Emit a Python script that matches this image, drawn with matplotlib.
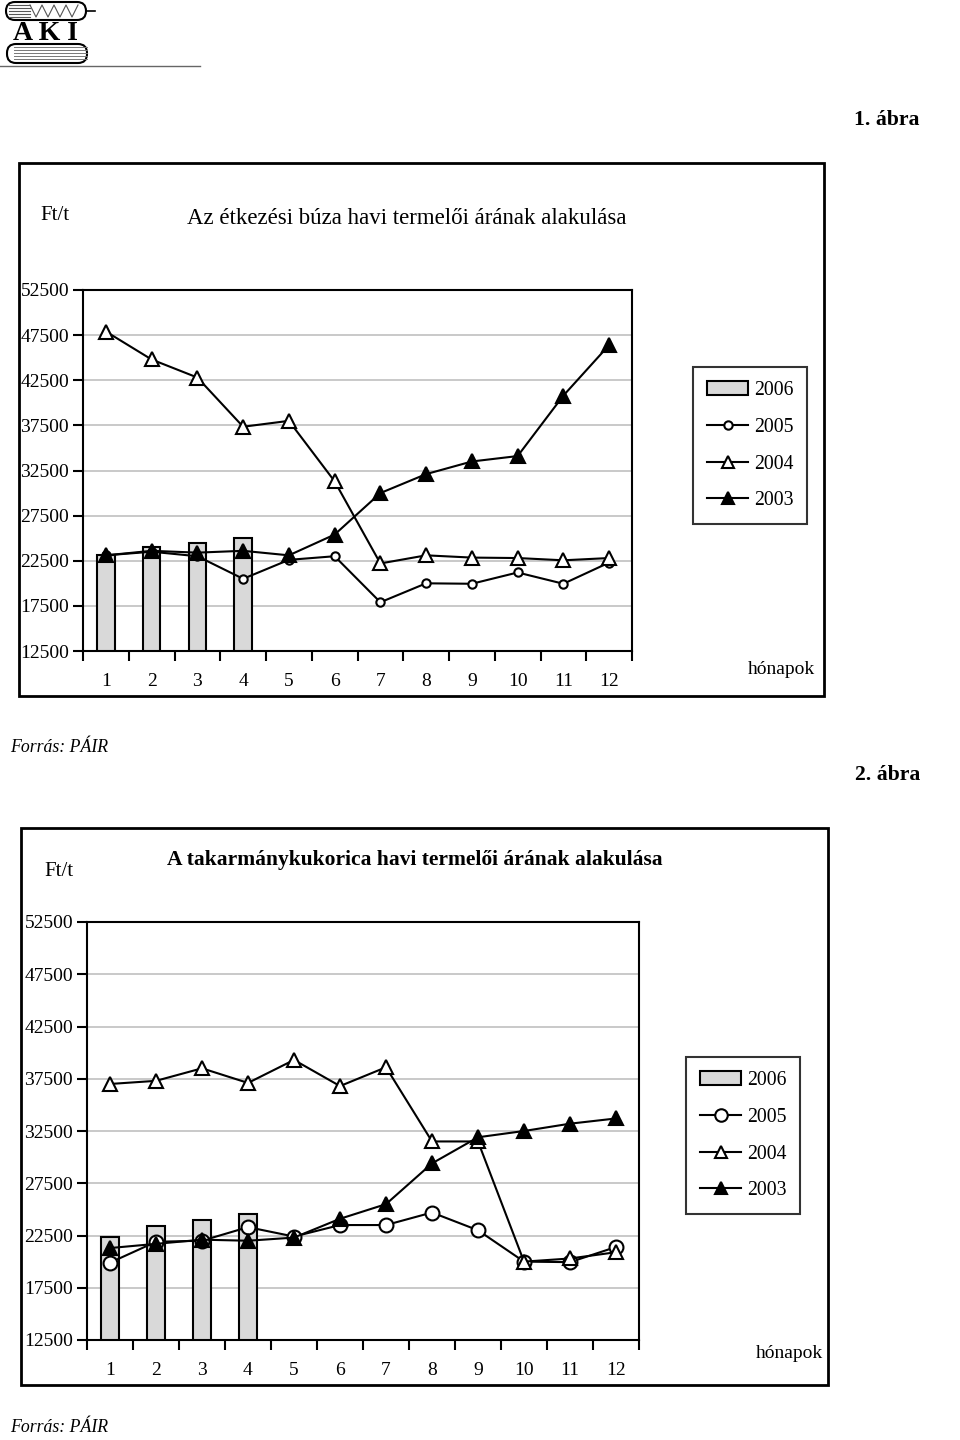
import numpy as np
import matplotlib
matplotlib.use("Agg")
import matplotlib.pyplot as plt
import matplotlib.patches as patches
from matplotlib.lines import Line2D

plt.rcParams['font.family'] = ['Liberation Serif', 'DejaVu Serif']

# monthly prices, Ft/t
months = np.arange(1, 13)

wheat_2006 = [23100, 24000, 24500, 25000]
wheat_2005 = [23100, 23500, 23000, 20500, 22600, 23000, 17900, 20000, 19950, 21200, 19950, 22300]
wheat_2004 = [47900, 44800, 42800, 37350, 38000, 31300, 22200, 23100, 22850, 22800, 22550, 22800]
wheat_2003 = [23100, 23600, 23400, 23600, 23100, 25400, 30000, 32100, 33500, 34100, 40800, 46400]

corn_2006 = [22400, 23400, 24000, 24600]
corn_2005 = [19900, 21900, 22000, 23300, 22400, 23500, 23500, 24700, 23000, 20000, 19950, 21400]
corn_2004 = [37000, 37300, 38500, 37100, 39300, 36800, 38600, 31500, 31500, 20000, 20300, 20900]
corn_2003 = [21300, 21700, 22100, 22000, 22300, 24100, 25500, 29400, 31900, 32500, 33200, 33700]

years = ["2006", "2005", "2004", "2003"]
y_ticks = np.arange(12500, 52501, 5000)

W, H = 960, 1440
fig = plt.figure(figsize=(W / 100, H / 100), dpi=100)

# overlay axes in pixel coordinates for frames, texts and logo
over = fig.add_axes([0, 0, 1, 1])
over.set_xlim(0, W)
over.set_ylim(H, 0)
over.axis("off")

BAR_COLOR = "#d9d9d9"
TICK_FS = 14


def make_chart(rect, s06, s05, s04, s03, circle_size):
    l, t, r, b = rect
    ax = fig.add_axes([l / W, 1 - b / H, (r - l) / W, (b - t) / H])
    ax.bar(months[:len(s06)], s06, width=0.38, color=BAR_COLOR,
           edgecolor="black", linewidth=1.5, zorder=2)
    ax.plot(months, s05, color="black", lw=1.5, marker="o", ms=circle_size,
            mfc="white", mec="black", mew=1.5, zorder=3)
    ax.plot(months, s04, color="black", lw=1.5, marker="^", ms=10,
            mfc="white", mec="black", mew=1.5, zorder=4)
    ax.plot(months, s03, color="black", lw=1.5, marker="^", ms=10,
            mfc="black", mec="black", mew=1.5, zorder=5)

    ax.set_xlim(0.5, 12.5)
    ax.set_ylim(12500, 52500)
    ax.set_yticks(y_ticks)
    ax.set_yticklabels([str(v) for v in y_ticks], fontsize=TICK_FS)
    ax.set_xticks(np.arange(0.5, 13, 1))
    ax.set_xticklabels([])
    ax.set_xticks(months, minor=True)
    ax.set_xticklabels([str(m) for m in months], minor=True, fontsize=TICK_FS)
    ax.tick_params(axis="x", which="major", direction="out", length=7, width=1.5)
    ax.tick_params(axis="x", which="minor", length=0, pad=16)
    ax.tick_params(axis="y", direction="out", length=7, width=1.5, pad=3)
    ax.yaxis.grid(True, color="#c0c0c0", lw=1.2)
    ax.set_axisbelow(True)
    for sp in ax.spines.values():
        sp.set_linewidth(1.5)
    return ax


def add_legend(x, y, circle_size):
    handles = [
        patches.Patch(facecolor=BAR_COLOR, edgecolor="black", linewidth=1.5),
        Line2D([], [], color="black", lw=1.5, marker="o", ms=circle_size,
               mfc="white", mec="black", mew=1.5),
        Line2D([], [], color="black", lw=1.5, marker="^", ms=9,
               mfc="white", mec="black", mew=1.5),
        Line2D([], [], color="black", lw=1.5, marker="^", ms=9,
               mfc="black", mec="black", mew=1.5),
    ]
    leg = fig.legend(handles, years, loc="upper left",
                     bbox_to_anchor=(x / W, 1 - y / H), fontsize=14.2,
                     frameon=True, fancybox=False, shadow=False,
                     handlelength=2.1, handleheight=0.75, labelspacing=0.9,
                     borderpad=0.7, handletextpad=0.3, borderaxespad=0)
    leg.get_frame().set_edgecolor("black")
    leg.get_frame().set_linewidth(1.5)


# chart 1 - wheat
make_chart((83, 290, 632, 651), wheat_2006, wheat_2005, wheat_2004, wheat_2003, 6)
add_legend(693, 367, 6)
over.add_patch(patches.Rectangle((19, 163), 805, 533, fill=False, lw=2, ec="black"))
over.text(920, 120, "1. ábra", ha="right", va="center", fontsize=15.7, fontweight="bold")
over.text(40, 215, "Ft/t", ha="left", va="center", fontsize=15)
over.text(407, 218, "Az étkezési búza havi termelői árának alakulása",
          ha="center", va="center", fontsize=16.5)
over.text(748, 670, "hónapok", ha="left", va="center", fontsize=14)
over.text(10, 747, "Forrás: PÁIR", ha="left", va="center", fontsize=12.8, style="italic")

# chart 2 - corn
make_chart((87, 922, 639, 1340), corn_2006, corn_2005, corn_2004, corn_2003, 10)
add_legend(686, 1057, 9)
over.add_patch(patches.Rectangle((21, 828), 807, 557, fill=False, lw=2, ec="black"))
over.text(920, 775, "2. ábra", ha="right", va="center", fontsize=15.7, fontweight="bold")
over.text(44, 872, "Ft/t", ha="left", va="center", fontsize=15)
over.text(415, 860, "A takarmánykukorica havi termelői árának alakulása",
          ha="center", va="center", fontsize=15.5, fontweight="bold")
over.text(756, 1353, "hónapok", ha="left", va="center", fontsize=14)
over.text(10, 1428, "Forrás: PÁIR", ha="left", va="center", fontsize=12.8, style="italic")

# AKI logo (rough sketch)
over.add_patch(patches.FancyBboxPatch((6, 2), 80, 18, boxstyle="round,pad=0,rounding_size=9",
                                      fc="white", ec="black", lw=1.5))
for yy in [5, 8, 11, 14, 17]:
    over.plot([9, 30], [yy, yy], color="#555555", lw=0.8)
zx = np.arange(30, 80, 6)
zy = np.where(np.arange(len(zx)) % 2 == 0, 5, 17)
over.plot(zx, zy, color="#555555", lw=0.8)
over.plot([86, 95], [11, 11], color="black", lw=1.2)
over.text(45, 34, "A K I", ha="center", va="center", fontsize=20, fontweight="bold")
over.add_patch(patches.FancyBboxPatch((7, 44), 80, 19, boxstyle="round,pad=0,rounding_size=9",
                                      fc="white", ec="black", lw=1.5))
for yy in [47, 50, 53, 56, 59]:
    over.plot([14, 87], [yy, yy], color="#777777", lw=0.7)
over.plot([0, 200], [66, 66], color="#666666", lw=1)

fig.savefig("out.png", dpi=100)
